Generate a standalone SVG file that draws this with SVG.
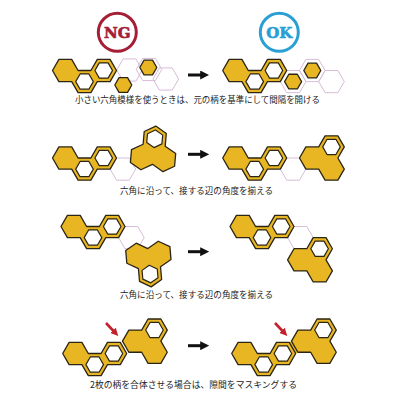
<svg xmlns="http://www.w3.org/2000/svg" xmlns:xlink="http://www.w3.org/1999/xlink" width="400" height="400" viewBox="0 0 400 400">
<style>
.y{fill:#e8b622;stroke:#2b2515;stroke-width:1.3;stroke-linejoin:round}
.w{fill:#fff;stroke:#2b2515;stroke-width:1.2;stroke-linejoin:round}
.p{fill:none;stroke:#d8bcd8;stroke-width:1}
.m{fill:#e8b622;stroke:none}
.t{font-family:"Noto Sans CJK JP","Noto Sans",sans-serif;font-size:8.6px;fill:#222;text-anchor:middle}
.badge{font-family:"DejaVu Serif",serif;font-weight:bold;font-size:15px;text-anchor:middle;stroke-width:0.6}
.ar{stroke:#111;stroke-width:3;fill:none}
.ra{stroke:#c3222c;stroke-width:2.6;fill:none}
</style>
<defs>
<polygon id="hx" points="12.8,0 6.4,11.085 -6.4,11.085 -12.8,0 -6.4,-11.085 6.4,-11.085"/>
<polygon id="hi" points="8.8,0 4.4,7.62 -4.4,7.62 -8.8,0 -4.4,-7.62 4.4,-7.62"/>
<polygon id="hs" points="8.5,0 4.25,7.36 -4.25,7.36 -8.5,0 -4.25,-7.36 4.25,-7.36"/>
<g id="chain">
<path class="y" d="M-12.8,0 L-6.4,-11.085 L6.4,-11.085 L12.8,0 L25.6,0 L32,-11.085 L44.8,-11.085 L51.2,0 L44.8,11.085 L32,11.085 L25.6,22.17 L12.8,22.17 L6.4,11.085 L-6.4,11.085 Z"/>
<use href="#hi" x="19.2" y="11.085" class="w"/>
<use href="#hi" x="38.4" y="0" class="w"/>
</g>
<g id="tri">
<path class="y" d="M-12.8,0 L-6.4,-11.085 L6.4,-11.085 L12.8,-22.17 L25.6,-22.17 L32,-11.085 L25.6,0 L32,11.085 L25.6,22.17 L12.8,22.17 L6.4,11.085 L-6.4,11.085 Z"/>
<use href="#hi" x="19.2" y="-11.085" class="w"/>
</g>
<marker id="bh" viewBox="0 0 10 10" refX="2" refY="5" markerWidth="3" markerHeight="3" orient="auto" markerUnits="strokeWidth">
<path d="M0,0 L10,5 L0,10 Z" fill="#111"/>
</marker>
<marker id="rh" viewBox="0 0 10 10" refX="2" refY="5" markerWidth="3" markerHeight="3" orient="auto" markerUnits="strokeWidth">
<path d="M0,0 L10,5 L0,10 Z" fill="#c3222c"/>
</marker>
</defs>

<g id="ng-badge">
<circle cx="117.3" cy="32.3" r="19" fill="none" stroke="#a51e36" stroke-width="3"/>
<text x="117.3" y="37.8" class="badge" fill="#a51e36" stroke="#a51e36">NG</text>
</g>
<g id="ok-badge">
<circle cx="279.3" cy="32.3" r="19" fill="none" stroke="#2a9fd6" stroke-width="3"/>
<text x="279.3" y="37.8" class="badge" fill="#2a9fd6" stroke="#2a9fd6">OK</text>
</g>

<g id="row1-ng">
<use href="#hx" x="129.5" y="70" class="p"/>
<use href="#hx" x="149" y="69.5" class="p"/>
<use href="#hx" x="165.8" y="79" class="p"/>
<use href="#chain" x="65.3" y="70.5"/>
<use href="#hs" x="123.3" y="85" class="y"/>
<use href="#hs" x="148.3" y="67.5" class="y"/>
</g>
<g id="row1-ok">
<use href="#hx" x="293.1" y="81.6" class="p"/>
<use href="#hx" x="312.3" y="70.5" class="p"/>
<use href="#hx" x="331.5" y="81.6" class="p"/>
<use href="#chain" x="235.5" y="70.5"/>
<use href="#hs" x="293.1" y="81.6" class="y"/>
<use href="#hs" x="312.3" y="70.5" class="y"/>
</g>

<g id="row2-ng">
<use href="#hx" x="122.9" y="169.1" class="p"/>
<use href="#chain" x="65.3" y="158"/>
<use href="#tri" transform="translate(142,157) rotate(-25)"/>
</g>
<g id="row2-ok">
<use href="#hx" x="293.1" y="169.1" class="p"/>
<use href="#chain" x="235.5" y="158"/>
<use href="#tri" x="312.3" y="158"/>
</g>

<g id="row3-ng">
<use href="#hx" x="131.4" y="237.6" class="p"/>
<use href="#chain" x="73.8" y="226.5"/>
<use href="#tri" transform="translate(159.4,254) rotate(145)"/>
</g>
<g id="row3-ok">
<use href="#hx" x="300.4" y="237.6" class="p"/>
<use href="#chain" x="242.8" y="226.5"/>
<use href="#tri" x="300.4" y="259.8"/>
</g>

<g id="row4-ng">
<use href="#chain" x="75.5" y="353.5"/>
<use href="#tri" x="135.27" y="341.15"/>
</g>
<g id="row4-ok">
<polygon class="m" points="289.1,342.6 295.6,353.8 298.1,352.1 291.6,340.9"/>
<use href="#chain" x="244.5" y="353.5"/>
<use href="#tri" x="304.27" y="341.15"/>
</g>

<g id="connectors">
<line class="ar" x1="188" y1="75" x2="202" y2="75" marker-end="url(#bh)"/>
<line class="ar" x1="188" y1="154.3" x2="202" y2="154.3" marker-end="url(#bh)"/>
<line class="ar" x1="188" y1="251.7" x2="202" y2="251.7" marker-end="url(#bh)"/>
<line class="ar" x1="188" y1="345.7" x2="202" y2="345.7" marker-end="url(#bh)"/>
<line class="ra" x1="106" y1="323" x2="114" y2="331.5" marker-end="url(#rh)"/>
<line class="ra" x1="275" y1="323" x2="283" y2="331.5" marker-end="url(#rh)"/>
</g>

<text class="t" x="197.5" y="102.5" textLength="245" lengthAdjust="spacingAndGlyphs">小さい六角模様を使うときは、元の柄を基準にして間隔を開ける</text>
<text class="t" x="196.5" y="194" textLength="153" lengthAdjust="spacingAndGlyphs">六角に沿って、接する辺の角度を揃える</text>
<text class="t" x="196.5" y="297.5" textLength="153" lengthAdjust="spacingAndGlyphs">六角に沿って、接する辺の角度を揃える</text>
<text class="t" x="193.5" y="388" textLength="207" lengthAdjust="spacingAndGlyphs">2枚の柄を合体させる場合は、隙間をマスキングする</text>
</svg>
